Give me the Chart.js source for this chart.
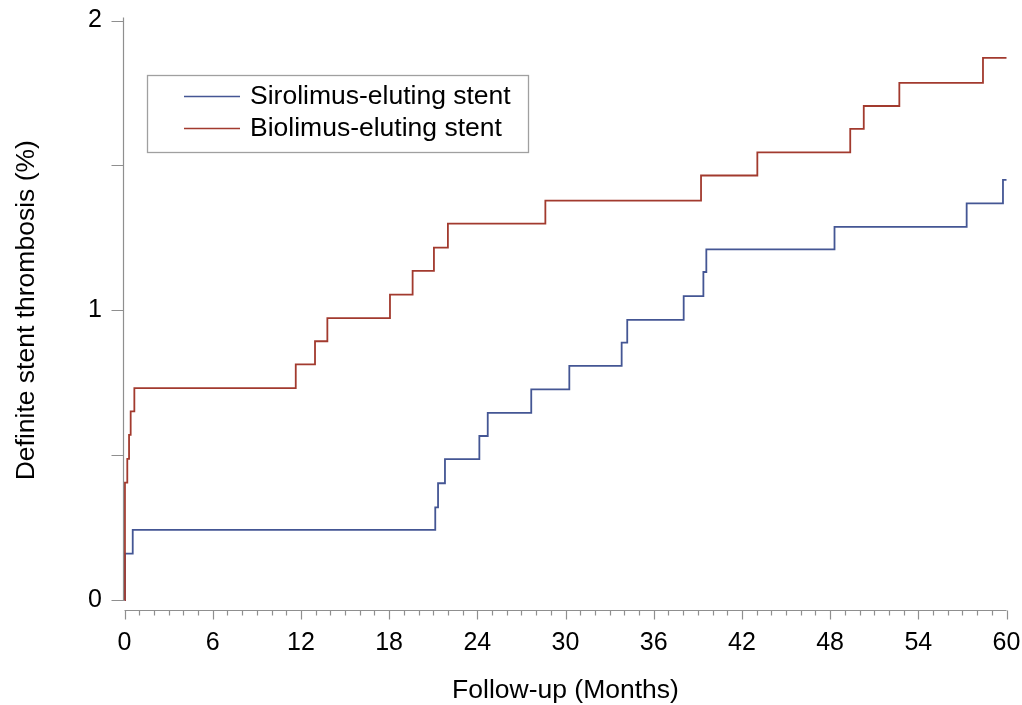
<!DOCTYPE html>
<html>
<head>
<meta charset="utf-8">
<title>Definite stent thrombosis</title>
<script src="https://cdn.jsdelivr.net/npm/chart.js@4/dist/chart.umd.min.js"></script>
<style>
  body { margin: 0; background: #fff; }
  #wrap { width: 1022px; height: 705px; }
</style>
</head>
<body>
<div id="wrap"><canvas id="ksChart" width="1022" height="705"></canvas></div>
<script>
/* ---------- Veriler ---------- */
const siroMonths = [0, 0.03, 0.56, 21.14, 21.33, 21.8, 24.14, 24.71, 27.67, 30.26, 33.82, 34.2, 38.04, 39.38, 39.58, 48.3, 57.29, 59.76, 60];
const siroPct    = [0, 0.16, 0.242, 0.32, 0.403, 0.486, 0.566, 0.646, 0.727, 0.808, 0.888, 0.967, 1.049, 1.132, 1.21, 1.288, 1.369, 1.45, 1.45];

const bioMonths = [0, 0.03, 0.19, 0.31, 0.42, 0.67, 11.65, 12.96, 13.8, 18.06, 19.6, 21.05, 22.0, 28.63, 39.22, 43.05, 49.37, 50.29, 52.71, 58.4, 60];
const bioPct    = [0, 0.405, 0.487, 0.57, 0.651, 0.731, 0.813, 0.893, 0.973, 1.054, 1.136, 1.216, 1.299, 1.378, 1.465, 1.545, 1.626, 1.705, 1.785, 1.871, 1.871];

const seriesNames = ['Sirolimus-eluting stent', 'Biolimus-eluting stent'];

const xTickValues = Array.from({ length: 61 }, (_, i) => i); // her ay bir çentik
const xLabelEvery = 6;
const yTickValues = [0, 0.5, 1, 1.5, 2];
const yLabelValues = [0, 1, 2];

const xTitle = 'Follow-up (Months)';
const yTitle = 'Definite stent thrombosis (%)';

/* ---------- Stil ---------- */
const FONT = '"Liberation Sans", Arial, sans-serif';
const axisColor = '#8f8f8f';
const colors = ['#445694', '#a23a2e'];

const toPoints = (xs, ys) => xs.map((x, i) => ({ x: x, y: ys[i] }));

/* ---------- Eksen çizgileri ve çentikler ---------- */
const axesPlugin = {
    id: 'sasAxes',
    afterDraw(chart) {
        const { ctx, chartArea } = chart;
        const xs = chart.scales.x, ys = chart.scales.y;
        ctx.save();
        ctx.strokeStyle = axisColor;
        ctx.lineWidth = 1.2;
        ctx.beginPath();

        // dikey eksen (biraz sola kaydırılmış)
        const ax = Math.round(chartArea.left - 2) + 0.5;
        ctx.moveTo(ax, ys.getPixelForValue(2) - 3);
        ctx.lineTo(ax, ys.getPixelForValue(0) + 1);
        ys.ticks.forEach(t => {
            const py = Math.round(ys.getPixelForValue(t.value)) + 0.5;
            ctx.moveTo(ax - 12, py);
            ctx.lineTo(ax, py);
        });

        // yatay eksen (biraz aşağıda)
        const ay = Math.round(chartArea.bottom + 10) + 0.5;
        ctx.moveTo(xs.getPixelForValue(0), ay);
        ctx.lineTo(xs.getPixelForValue(60), ay);
        xs.ticks.forEach(t => {
            const px = Math.round(xs.getPixelForValue(t.value)) + 0.5;
            const len = t.value % xLabelEvery === 0 ? 9 : 5;
            ctx.moveTo(px, ay);
            ctx.lineTo(px, ay + len);
        });
        ctx.stroke();
        ctx.restore();
    }
};

/* ---------- Çerçeveli lejant ---------- */
const legendPlugin = {
    id: 'boxLegend',
    afterDraw(chart) {
        const { ctx } = chart;
        ctx.save();
        ctx.strokeStyle = '#a0a0a0';
        ctx.lineWidth = 1.3;
        ctx.strokeRect(147.5, 75.5, 381, 77);
        ctx.font = '26.5px ' + FONT;
        ctx.textBaseline = 'middle';
        ctx.textAlign = 'left';
        chart.data.datasets.forEach((ds, i) => {
            const ly = 96 + i * 32;
            ctx.strokeStyle = ds.borderColor;
            ctx.lineWidth = 1.6;
            ctx.beginPath();
            ctx.moveTo(184, ly + 0.5);
            ctx.lineTo(240, ly + 0.5);
            ctx.stroke();
            ctx.fillStyle = '#000';
            ctx.fillText(ds.label, 250, ly + 1);
        });
        ctx.restore();
    }
};

document.addEventListener('DOMContentLoaded', () => {
    const ctx = document.getElementById('ksChart').getContext('2d');
    new Chart(ctx, {
        type: 'line',
        data: {
            datasets: [
                { label: seriesNames[0], data: toPoints(siroMonths, siroPct), borderColor: colors[0], order: 1 },
                { label: seriesNames[1], data: toPoints(bioMonths, bioPct), borderColor: colors[1], order: 0 }
            ].map(d => Object.assign(d, {
                stepped: true, borderWidth: 1.8, pointRadius: 0, fill: false, clip: false
            }))
        },
        options: {
            responsive: false,
            animation: false,
            layout: { padding: { top: 20.5, right: 15.5, left: 0, bottom: 0 } },
            plugins: { legend: { display: false }, tooltip: { enabled: false } },
            scales: {
                x: {
                    type: 'linear', min: 0, max: 60,
                    afterBuildTicks: s => { s.ticks = xTickValues.map(v => ({ value: v })); },
                    afterFit: s => { s.height = 105; s.paddingLeft = 0; s.paddingRight = 0; },
                    grid: { display: false, drawTicks: false },
                    border: { display: false },
                    ticks: {
                        autoSkip: false, maxRotation: 0, padding: 30.5, color: '#000',
                        font: { family: FONT, size: 25, lineHeight: 1 },
                        callback: v => (v % xLabelEvery === 0 ? String(v) : '')
                    },
                    title: {
                        display: true, text: xTitle, color: '#000',
                        font: { family: FONT, size: 26.5 }, padding: { top: 0, bottom: -2 }
                    }
                },
                y: {
                    type: 'linear', min: 0, max: 2,
                    afterBuildTicks: s => { s.ticks = yTickValues.map(v => ({ value: v })); },
                    afterFit: s => { s.width = 124.5; s.paddingTop = 0; s.paddingBottom = 0; },
                    grid: { display: false, drawTicks: false },
                    border: { display: false },
                    ticks: {
                        autoSkip: false, padding: 22.5, color: '#000',
                        font: { family: FONT, size: 25, lineHeight: 1 },
                        callback: v => (yLabelValues.includes(v) ? String(v) : '')
                    },
                    title: {
                        display: true, text: yTitle, color: '#000',
                        font: { family: FONT, size: 26.5 }, padding: { top: 11, bottom: 0 }
                    }
                }
            }
        },
        plugins: [axesPlugin, legendPlugin]
    });
});
</script>
</body>
</html>
